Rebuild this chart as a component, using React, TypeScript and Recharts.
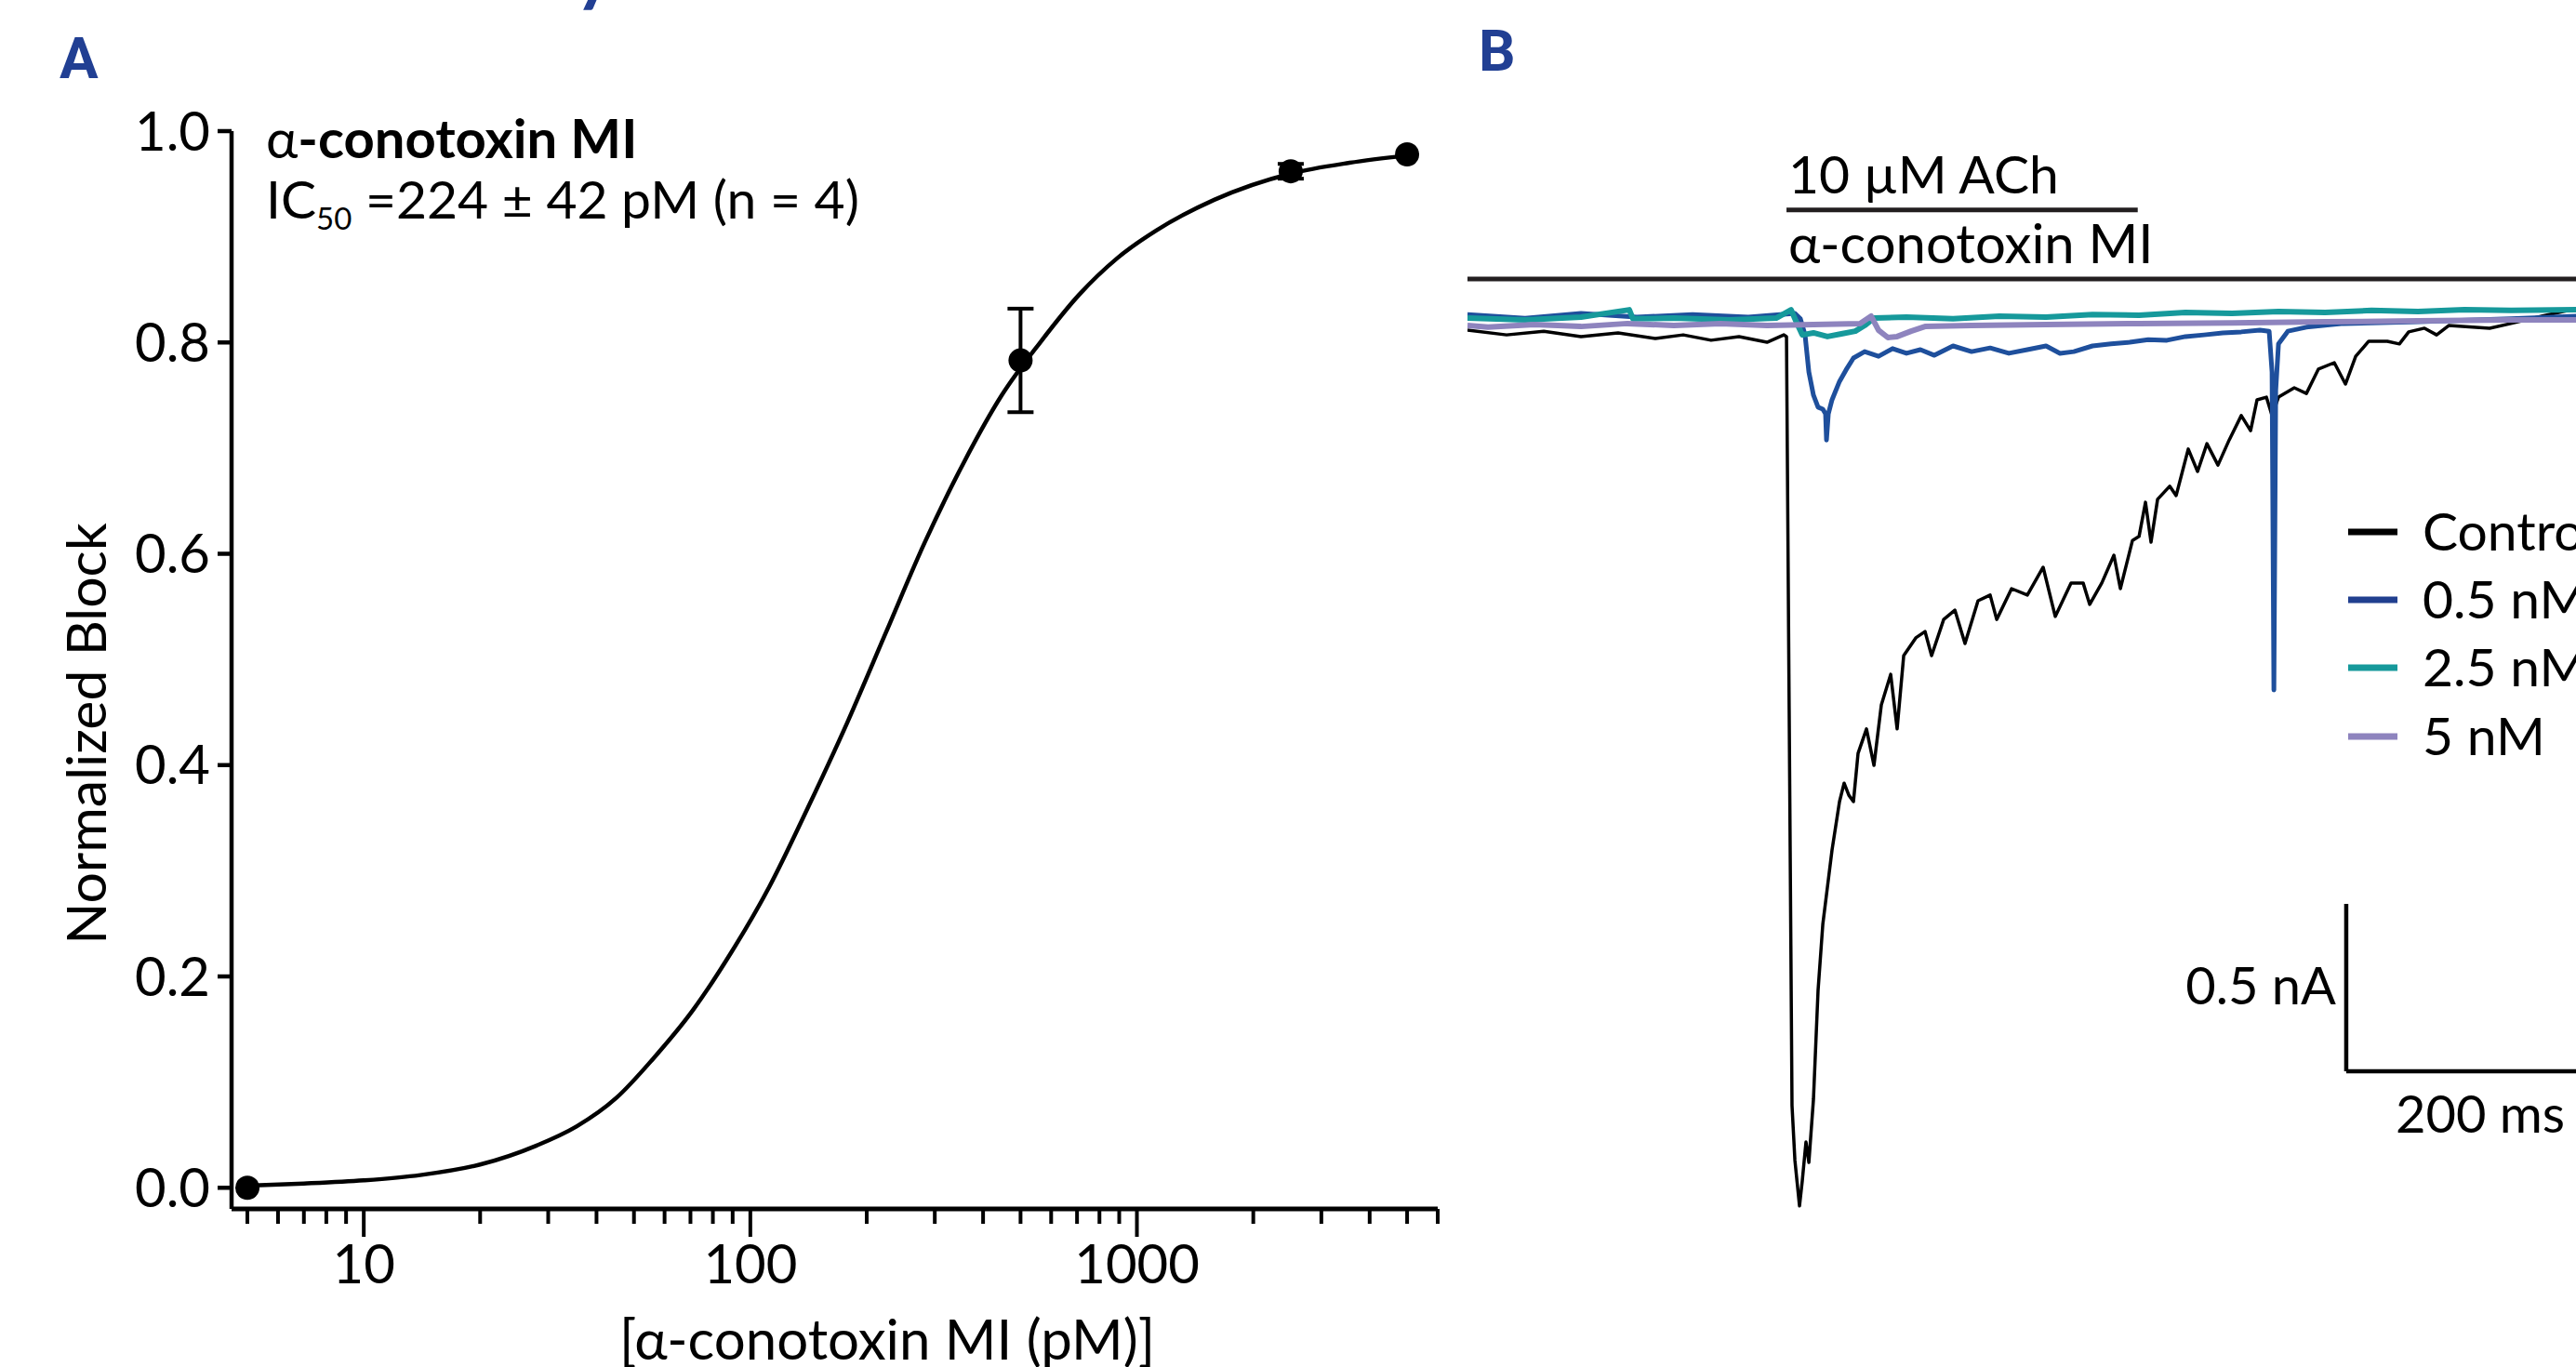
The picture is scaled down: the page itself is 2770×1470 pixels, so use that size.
import {
  ComposedChart,
  LineChart,
  Line,
  Scatter,
  ErrorBar,
  XAxis,
  YAxis,
  ReferenceLine,
} from "recharts";

const FONT = "Lato, 'DejaVu Sans', sans-serif";
const LABEL_BLUE = "#213f93";

// ---- panel A: concentration-response ----
const doseTicks = [
  5, 6, 7, 8, 9, 10, 20, 30, 40, 50, 60, 70, 80, 90, 100, 200, 300, 400, 500, 600, 700, 800,
  900, 1000, 2000, 3000, 4000, 5000, 6000,
];
const doseLabels = [10, 100, 1000];
const blockTicks = [0, 0.2, 0.4, 0.6, 0.8, 1.0];

// fitted curve: [pM, block]
const fitCurve: [number, number][] = [
  [5, 0.002], [7, 0.004], [10, 0.007], [14, 0.012], [20, 0.022], [28, 0.04],
  [35.5, 0.058], [45, 0.085], [56, 0.122], [71, 0.168], [89, 0.222], [112, 0.285],
  [141, 0.36], [178, 0.44], [224, 0.525], [282, 0.61], [355, 0.685], [447, 0.75],
  [562, 0.8], [708, 0.845], [891, 0.88], [1122, 0.906], [1585, 0.935], [2512, 0.96],
  [3548, 0.97], [5012, 0.977],
];

// mean block ± SEM: [pM, block, sem]
const meanBlock: [number, number, number][] = [
  [5, 0.0, 0],
  [500, 0.783, 0.049],
  [2500, 0.962, 0.007],
  [5000, 0.978, 0],
];

// ---- panel B: current traces, [ms, nA] ----
const controlTrace: [number, number][] = [
  [0, -0.028], [29.7, -0.042], [58, -0.031], [86.3, -0.047], [114.5, -0.036], [142.8, -0.053],
  [164, -0.042], [185.2, -0.058], [206.4, -0.047], [227.7, -0.064], [240.4, -0.042],
  [242.5, -0.047], [246.7, -2.344], [248.9, -2.508], [252.4, -2.644], [254.5, -2.569],
  [257.3, -2.453], [259.5, -2.514], [263, -2.325], [266.5, -2.0], [270.1, -1.803],
  [273.6, -1.692], [277.1, -1.581], [282.8, -1.436], [286.3, -1.381], [289.9, -1.417],
  [293.4, -1.436], [296.9, -1.292], [303.3, -1.219], [309, -1.328], [314.6, -1.147],
  [321.7, -1.056], [326.6, -1.219], [331.6, -1.0], [340.8, -0.947], [347.8, -0.928],
  [352.8, -1.0], [362, -0.892], [370.5, -0.864], [378.2, -0.964], [388.1, -0.836],
  [397.3, -0.819], [402.3, -0.892], [413.6, -0.8], [425.6, -0.819], [437.6, -0.736],
  [446.8, -0.883], [458.8, -0.783], [468, -0.783], [473, -0.847], [482.2, -0.783],
  [491.4, -0.7], [496.3, -0.8], [505.5, -0.656], [510.5, -0.644], [515.4, -0.542],
  [519.6, -0.661], [524.6, -0.533], [533.8, -0.494], [538.7, -0.522], [547.9, -0.383],
  [555, -0.45], [562.1, -0.367], [570.5, -0.431], [579, -0.356], [588.2, -0.283],
  [595.3, -0.328], [600.2, -0.236], [607.3, -0.228], [611.6, -0.283], [616.5, -0.228],
  [628.5, -0.2], [637.7, -0.217], [646.9, -0.144], [658.9, -0.125], [667.4, -0.189],
  [675.2, -0.106], [685.1, -0.061], [699.2, -0.061], [708.4, -0.069], [715.5, -0.033],
  [727.5, -0.022], [736.7, -0.042], [745.9, -0.014], [777, -0.022], [793.2, -0.008],
  [816.6, 0.014], [842.7, 0.036],
];

const nm05Trace: [number, number][] = [
  [0, 0.019], [43.8, 0.008], [86.3, 0.022], [128.7, 0.011], [171.1, 0.019], [213.5, 0.011],
  [248.9, 0.022], [253.1, 0.006], [256.6, -0.042], [259.5, -0.153], [263, -0.222],
  [266.5, -0.258], [270.1, -0.264], [272.2, -0.278], [272.9, -0.356], [274.3, -0.278],
  [277.1, -0.236], [282.8, -0.181], [287.7, -0.147], [293.4, -0.111], [301.9, -0.092],
  [312.5, -0.106], [323.1, -0.083], [333.7, -0.097], [344.3, -0.086], [354.9, -0.103],
  [369.1, -0.075], [383.2, -0.092], [397.3, -0.081], [411.5, -0.097], [425.6, -0.086],
  [439.8, -0.075], [450.4, -0.097], [460.9, -0.092], [475.1, -0.075], [489.2, -0.069],
  [503.4, -0.064], [517.5, -0.056], [531.7, -0.058], [545.8, -0.047], [559.9, -0.042],
  [574.1, -0.036], [588.2, -0.033], [602.4, -0.028], [609.4, -0.031], [611.6, -0.153],
  [613, -1.103], [614.4, -0.208], [616.5, -0.069], [623.6, -0.031], [637.7, -0.019],
  [666, -0.008], [722.5, -0.003], [793.2, 0.006], [842.7, 0.014],
];

const nm25Trace: [number, number][] = [
  [0, 0.008], [43.8, 0.003], [86.3, 0.011], [123, 0.033], [125.8, 0.006], [156.9, 0.008],
  [199.4, 0.003], [234.7, 0.008], [246, 0.033], [249.6, 0], [254.5, -0.042], [263, -0.036],
  [273.6, -0.047], [284.2, -0.039], [294.8, -0.031], [301.9, -0.014], [308.9, 0.008],
  [333.7, 0.011], [369.1, 0.006], [404.4, 0.014], [439.8, 0.011], [475.1, 0.019],
  [510.5, 0.017], [545.8, 0.025], [581.2, 0.022], [616.5, 0.028], [651.9, 0.025],
  [687.2, 0.031], [722.5, 0.028], [757.9, 0.033], [793.2, 0.031], [842.7, 0.033],
];

const nm5Trace: [number, number][] = [
  [0, -0.014], [15.6, -0.019], [50.9, -0.011], [86.3, -0.017], [121.6, -0.008], [156.9, -0.014],
  [192.3, -0.008], [227.7, -0.014], [263, -0.011], [298.4, -0.008], [306.8, 0.014],
  [312.5, -0.028], [319.6, -0.05], [326.6, -0.047], [337.2, -0.031], [347.8, -0.017],
  [383.2, -0.014], [439.8, -0.011], [510.5, -0.008], [581.2, -0.006], [651.9, -0.003],
  [722.5, 0], [793.2, 0.003], [842.7, 0.003],
];

const traces = [
  { name: "Control", color: "#000000", width: 3.5, data: controlTrace },
  { name: "0.5 nM", color: "#1e4f9c", width: 5, data: nm05Trace },
  { name: "2.5 nM", color: "#16999b", width: 6, data: nm25Trace },
  { name: "5 nM", color: "#8e84be", width: 6, data: nm5Trace },
];
const legendColors = ["#000000", "#213f8f", "#16999b", "#8e84be"];

// application bars and scale bar (ms, nA)
const achPulse = { start: 242.5, end: 509.5, level: 0.331 };
const toxinBar = { start: 0, end: 919, level: 0.125 };
const scaleBar = { t: 668, i: -2.242, dt: 200, di: 0.5 };

const curveData = fitCurve.map(([x, y]) => ({ x, y }));
const pointData = meanBlock.map(([x, y, err]) => ({ x, y, err }));

function DoseTick(props: any) {
  const { x, y, payload } = props;
  const major = doseLabels.includes(payload.value);
  return (
    <g>
      <line x1={x} x2={x} y1={y} y2={y + (major ? 30 : 16)} stroke="#000" strokeWidth={4} />
      {major && (
        <text x={x} y={y + 80} textAnchor="middle" fontSize={58} fontFamily={FONT} fill="#000">
          {payload.value}
        </text>
      )}
    </g>
  );
}

const seg = (x1: number, y1: number, x2: number, y2: number) => [
  { x: x1, y: y1 },
  { x: x2, y: y2 },
];

export default function App() {
  return (
    <div
      style={{
        position: "absolute",
        left: 0,
        top: 0,
        width: 2770,
        height: 1470,
        overflow: "hidden",
        background: "#fff",
        fontFamily: FONT,
      }}
    >
      <div style={{ position: "absolute", left: 0, top: 0 }}>
        <ComposedChart width={1560} height={1470} margin={{ top: 141, right: 14, bottom: 0, left: 0 }}>
          <XAxis
            type="number"
            dataKey="x"
            scale="log"
            domain={[4.55, 6000]}
            allowDataOverflow
            ticks={doseTicks}
            interval={0}
            height={170}
            tickSize={0}
            tickMargin={0}
            tickLine={false}
            axisLine={{ stroke: "#000", strokeWidth: 5 }}
            tick={(p: any) => <DoseTick {...p} />}
          />
          <YAxis
            type="number"
            dataKey="y"
            domain={[-0.02, 1]}
            allowDataOverflow
            ticks={blockTicks}
            interval={0}
            width={249}
            tickSize={15}
            tickMargin={8}
            axisLine={{ stroke: "#000", strokeWidth: 4.5 }}
            tickLine={{ stroke: "#000", strokeWidth: 4.5 }}
            tick={{ fill: "#000", fontSize: 58, fontFamily: FONT }}
            tickFormatter={(v: number) => v.toFixed(1)}
          />
          <Line
            data={curveData}
            dataKey="y"
            type="monotone"
            stroke="#000"
            strokeWidth={4.5}
            dot={false}
            isAnimationActive={false}
          />
          <Scatter
            data={pointData}
            dataKey="y"
            fill="#000"
            isAnimationActive={false}
            shape={(p: any) => <circle cx={p.cx} cy={p.cy} r={13} fill="#000" />}
          >
            <ErrorBar
              dataKey="err"
              direction="y"
              width={14}
              stroke="#000"
              strokeWidth={4}
              isAnimationActive={false}
            />
          </Scatter>
        </ComposedChart>
      </div>

      <div style={{ position: "absolute", left: 1578, top: 0 }}>
        <LineChart width={1300} height={1470} margin={{ top: 165, right: 0, bottom: 45, left: 0 }}>
          <XAxis type="number" dataKey="t" domain={[0, 919]} allowDataOverflow hide />
          <YAxis type="number" domain={[-3, 0.5]} allowDataOverflow hide />
          <ReferenceLine
            segment={seg(achPulse.start, achPulse.level, achPulse.end, achPulse.level)}
            stroke="#231f20"
            strokeWidth={5}
            ifOverflow="visible"
          />
          <ReferenceLine
            segment={seg(toxinBar.start, toxinBar.level, toxinBar.end, toxinBar.level)}
            stroke="#231f20"
            strokeWidth={5}
            ifOverflow="visible"
          />
          <ReferenceLine
            segment={seg(scaleBar.t, scaleBar.i + scaleBar.di, scaleBar.t, scaleBar.i)}
            stroke="#000"
            strokeWidth={4.5}
            ifOverflow="visible"
          />
          <ReferenceLine
            segment={seg(scaleBar.t, scaleBar.i, scaleBar.t + scaleBar.dt, scaleBar.i)}
            stroke="#000"
            strokeWidth={4.5}
            ifOverflow="visible"
          />
          {traces.map((s) => (
            <Line
              key={s.name}
              data={s.data.map(([t, i]) => ({ t, i }))}
              dataKey="i"
              type="linear"
              stroke={s.color}
              strokeWidth={s.width}
              strokeLinejoin="round"
              dot={false}
              isAnimationActive={false}
            />
          ))}
        </LineChart>
      </div>

      <svg
        width={2770}
        height={1470}
        style={{ position: "absolute", left: 0, top: 0, pointerEvents: "none" }}
        fontFamily={FONT}
      >
        <text x={618} y={-3} fontSize={80} fontWeight={700} fill={LABEL_BLUE}>
          y
        </text>
        <text x={64} y={84} fontSize={62} fontWeight={700} fill={LABEL_BLUE} fontFamily="Roboto, sans-serif">
          A
        </text>
        <text x={1590} y={76} fontSize={62} fontWeight={700} fill={LABEL_BLUE} fontFamily="Roboto, sans-serif">
          B
        </text>

        <text x={286} y={170} fontSize={58}>
          <tspan>α</tspan>
          <tspan fontWeight={700}>-conotoxin MI</tspan>
        </text>
        <text x={286} y={235} fontSize={57}>
          IC
          <tspan fontSize={33} dy={12}>
            50
          </tspan>
          <tspan dy={-12}> =224 ± 42 pM (n = 4)</tspan>
        </text>
        <text transform="translate(114 789) rotate(-90)" textAnchor="middle" fontSize={59}>
          Normalized Block
        </text>
        <text x={954} y={1462} textAnchor="middle" fontSize={60}>
          [α-conotoxin MI (pM)]
        </text>

        <text x={1923} y={208} fontSize={57}>
          10 µM ACh
        </text>
        <text x={1923} y={283} fontSize={58}>
          α-conotoxin MI
        </text>
        <text x={2512} y={1080} textAnchor="end" fontSize={56}>
          0.5 nA
        </text>
        <text x={2576} y={1218} fontSize={56}>
          200 ms
        </text>

        {traces.map((s, k) => {
          const ly = [572, 645, 718, 792][k];
          return (
            <g key={s.name}>
              <line x1={2525} x2={2578} y1={ly} y2={ly} stroke={legendColors[k]} strokeWidth={7} />
              <text x={2605} y={ly + 20} fontSize={57}>
                {s.name}
              </text>
            </g>
          );
        })}
      </svg>
    </div>
  );
}
